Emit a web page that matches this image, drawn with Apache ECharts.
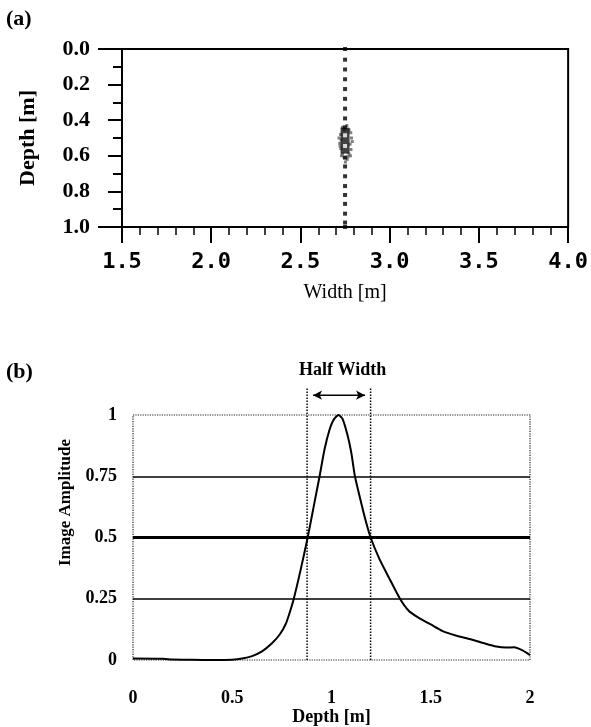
<!DOCTYPE html>
<html><head><meta charset="utf-8">
<script src="https://cdn.jsdelivr.net/npm/echarts@6/dist/echarts.min.js"></script>
<style>html,body{margin:0;padding:0;background:#fff}#c{width:591px;height:727px}</style>
</head><body><div id="c"></div>
<script>
// ---------- Panel (a): image ----------
const widthLabelsA = ['1.5', '2.0', '2.5', '3.0', '3.5', '4.0'];
const depthLabelsA = ['0.0', '0.2', '0.4', '0.6', '0.8', '1.0'];
const scanLineX = 2.75;
const scanDotDepths = [0.0, 0.06, 0.115, 0.17, 0.225, 0.28, 0.335, 0.39, 0.44, 0.61, 0.66, 0.715, 0.77, 0.82, 0.87, 0.925, 0.975, 1.0];
const blobHaloPts = [
  [2.735, 0.44], [2.76, 0.43], [2.745, 0.455], [2.772, 0.455], [2.725, 0.48], [2.782, 0.47],
  [2.728, 0.51], [2.786, 0.5], [2.72, 0.53], [2.778, 0.535], [2.726, 0.56], [2.783, 0.565],
  [2.735, 0.59], [2.772, 0.59], [2.745, 0.61], [2.762, 0.62], [2.752, 0.635], [2.74, 0.445],
  [2.766, 0.605], [2.722, 0.545], [2.79, 0.52], [2.716, 0.5], [2.73, 0.6], [2.78, 0.6]
];
const blobCore = [[2.75, 0.515]];
const blobHoles = [[2.75, 0.485], [2.75, 0.545]];

// ---------- Panel (b): amplitude profile ----------
const depthB = [0, 0.15, 0.2, 0.3, 0.4, 0.5, 0.55, 0.6, 0.65, 0.7, 0.74, 0.77, 0.79, 0.81, 0.845, 0.88, 0.91, 0.94, 0.965, 0.99, 1.01, 1.035, 1.055, 1.08, 1.1, 1.118, 1.15, 1.175, 1.197, 1.24, 1.29, 1.345, 1.39, 1.44, 1.5, 1.56, 1.63, 1.7, 1.77, 1.83, 1.88, 1.92, 1.96, 2.0];
const ampB   = [0.006, 0.005, 0.002, 0.001, 0.0, 0.001, 0.006, 0.016, 0.035, 0.068, 0.105, 0.148, 0.195, 0.25, 0.37, 0.5, 0.625, 0.75, 0.86, 0.94, 0.98, 1.0, 0.985, 0.92, 0.845, 0.75, 0.64, 0.56, 0.5, 0.415, 0.335, 0.25, 0.2, 0.172, 0.145, 0.118, 0.099, 0.085, 0.068, 0.055, 0.051, 0.052, 0.04, 0.02];
const depthLabelsB = ['0', '0.5', '1', '1.5', '2'];
const ampLabelsB = ['0', '0.25', '0.5', '0.75', '1'];
const halfLevel = 0.5;
const halfWidthBounds = [0.877, 1.197];
const guideTop = 1.11;
const arrowSpan = [0.907, 1.169];
const arrowLevel = 1.081;

const serif = 'Liberation Serif';
const chart = echarts.init(document.getElementById('c'), null, {renderer: 'canvas'});

chart.setOption({
  animation: false,
  backgroundColor: '#fff',
  title: [
    {text: '(a)', left: 6, top: 8, padding: 0, textStyle: {fontFamily: serif, fontWeight: 'bold', fontSize: 22, color: '#000'}},
    {text: '(b)', left: 6, top: 361, padding: 0, textStyle: {fontFamily: serif, fontWeight: 'bold', fontSize: 22, color: '#000'}},
    {text: 'Half Width', left: 299, top: 361, padding: 0, textStyle: {fontFamily: serif, fontWeight: 'bold', fontSize: 18, color: '#000'}}
  ],
  grid: [
    {left: 122, top: 49, width: 448, height: 178, show: true, borderColor: '#000', borderWidth: 2, backgroundColor: 'transparent'},
    {left: 133, top: 415, width: 397, height: 245, show: true, borderColor: '#222', borderWidth: 1.2, borderType: 'dotted', backgroundColor: 'transparent'}
  ],
  xAxis: [
    {
      gridIndex: 0, type: 'value', min: 1.5, max: 4.0, interval: 0.5, position: 'bottom',
      axisLine: {show: true, onZero: false, lineStyle: {color: '#000', width: 2}},
      axisTick: {show: true, length: 16, lineStyle: {color: '#000', width: 2}},
      minorTick: {show: true, splitNumber: 5, length: 8, lineStyle: {color: '#000', width: 1.5}},
      splitLine: {show: false},
      axisLabel: {margin: 24, fontFamily: 'DejaVu Sans Mono', fontWeight: 'bold', fontSize: 22, color: '#000',
        formatter: (v, i) => widthLabelsA[i]},
      name: 'Width [m]', nameLocation: 'middle', nameGap: 56,
      nameTextStyle: {fontFamily: serif, fontSize: 20, color: '#000'}
    },
    {
      gridIndex: 1, type: 'value', min: 0, max: 2, interval: 0.5,
      axisLine: {show: false, onZero: false}, axisTick: {show: false}, splitLine: {show: false},
      axisLabel: {margin: 29, fontFamily: serif, fontWeight: 'bold', fontSize: 18, color: '#000',
        formatter: (v, i) => depthLabelsB[i]},
      name: 'Depth [m]', nameLocation: 'middle', nameGap: 43,
      nameTextStyle: {fontFamily: serif, fontWeight: 'bold', fontSize: 18, color: '#000'}
    }
  ],
  yAxis: [
    {
      gridIndex: 0, type: 'value', inverse: true, min: 0, max: 1, interval: 0.2,
      axisLine: {show: true, onZero: false, lineStyle: {color: '#000', width: 2}},
      axisTick: {show: true, length: 14, lineStyle: {color: '#000', width: 2}},
      minorTick: {show: true, splitNumber: 2, length: 9, lineStyle: {color: '#000', width: 2}},
      splitLine: {show: false},
      axisLabel: {margin: 32, fontFamily: serif, fontWeight: 'bold', fontSize: 22, color: '#000',
        formatter: (v, i) => depthLabelsA[i]},
      name: 'Depth [m]', nameLocation: 'middle', nameGap: 83,
      nameTextStyle: {fontFamily: serif, fontWeight: 'bold', fontSize: 22, color: '#000'}
    },
    {
      gridIndex: 1, type: 'value', min: 0, max: 1, interval: 0.25,
      axisLine: {show: false, onZero: false}, axisTick: {show: false},
      splitLine: {show: true, showMinLine: false, showMaxLine: false, lineStyle: {color: '#000', width: 1.6}},
      axisLabel: {margin: 16, fontFamily: serif, fontWeight: 'bold', fontSize: 18, color: '#000',
        formatter: (v, i) => ampLabelsB[i]},
      name: 'Image Amplitude', nameLocation: 'middle', nameGap: 57,
      nameTextStyle: {fontFamily: serif, fontWeight: 'bold', fontSize: 17, color: '#000', padding: [0, 0, 0, 70]}
    },
    {
      gridIndex: 0, type: 'value', inverse: true, min: 0, max: 1, interval: 1, position: 'left',
      axisLine: {show: false, onZero: false}, axisLabel: {show: false}, splitLine: {show: false},
      axisTick: {show: true, length: 24, lineStyle: {color: '#000', width: 2}}
    }
  ],
  series: [
    {type: 'scatter', xAxisIndex: 0, yAxisIndex: 0, symbol: 'rect', symbolSize: 3,
      itemStyle: {color: '#555', opacity: 0.75}, data: blobHaloPts},
    {type: 'scatter', xAxisIndex: 0, yAxisIndex: 0, symbol: 'rect', symbolSize: [9, 26],
      itemStyle: {color: '#111'}, data: blobCore},
    {type: 'scatter', xAxisIndex: 0, yAxisIndex: 0, symbol: 'rect', symbolSize: 4,
      itemStyle: {color: '#fff'}, data: blobHoles},
    {type: 'scatter', xAxisIndex: 0, yAxisIndex: 0, symbol: 'rect', symbolSize: 4,
      itemStyle: {color: '#000'}, data: scanDotDepths.map(d => [scanLineX, d])},
    {type: 'line', xAxisIndex: 1, yAxisIndex: 1, showSymbol: false, smooth: 0.2,
      lineStyle: {color: '#000', width: 2},
      data: depthB.map((d, i) => [d, ampB[i]]),
      markLine: {silent: true, symbol: 'none', label: {show: false},
        lineStyle: {color: '#000', width: 2.8, type: 'solid'}, data: [{yAxis: halfLevel}]}},
    ...halfWidthBounds.map(x => ({
      type: 'line', xAxisIndex: 1, yAxisIndex: 1, showSymbol: false, clip: false,
      lineStyle: {color: '#000', width: 1.5, type: 'dotted'},
      data: [[x, 0], [x, guideTop]]
    })),
    {type: 'line', xAxisIndex: 1, yAxisIndex: 1, clip: false, showSymbol: true,
      symbol: 'arrow', symbolSize: [7, 9], itemStyle: {color: '#000'},
      lineStyle: {color: '#000', width: 1.5},
      data: [{value: [arrowSpan[0], arrowLevel], symbolRotate: 90}, {value: [arrowSpan[1], arrowLevel], symbolRotate: -90}]}
  ]
});
</script></body></html>
